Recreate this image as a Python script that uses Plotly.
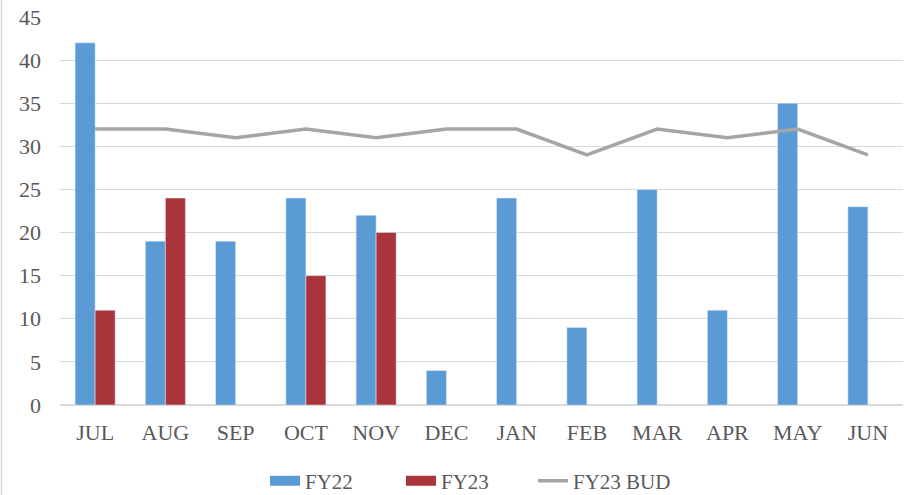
import plotly.graph_objects as go

months = ["JUL", "AUG", "SEP", "OCT", "NOV", "DEC", "JAN", "FEB", "MAR", "APR", "MAY", "JUN"]
fy22 = [42, 19, 19, 24, 22, 4, 24, 9, 25, 11, 35, 23]
fy23 = [11, 24, None, 15, 20, None, None, None, None, None, None, None]
fy23_bud = [32, 32, 31, 32, 31, 32, 32, 29, 32, 31, 32, 29]

font_family = "Liberation Serif, Times New Roman, serif"
text_color = "#595959"
grid_color = "#D9D9D9"
blue = "#5B9BD5"
red = "#A9343B"
gray = "#A5A5A5"

fig = go.Figure()
fig.add_trace(go.Bar(x=months, y=fy22, name="FY22", marker_color=blue, showlegend=False))
fig.add_trace(go.Bar(x=months, y=fy23, name="FY23", marker_color=red, showlegend=False))
fig.add_trace(go.Scatter(x=months, y=fy23_bud, name="FY23 BUD", mode="lines",
                         line=dict(color=gray, width=3.5), showlegend=False))
# legend entries (wide swatches like the reference), one legend each for exact spacing
fig.add_trace(go.Scatter(x=[None], y=[None], name="FY22", mode="lines",
                         line=dict(color=blue, width=12), legend="legend"))
fig.add_trace(go.Scatter(x=[None], y=[None], name="FY23", mode="lines",
                         line=dict(color=red, width=12), legend="legend2"))
fig.add_trace(go.Scatter(x=[None], y=[None], name="FY23 BUD", mode="lines",
                         line=dict(color=gray, width=3.5), legend="legend3"))

W, H = 912, 495
ml, mr, mt, mb = 60, 9, 17, 90
pw = W - ml - mr
ph = H - mt - mb


def legend_at(left_px):
    return dict(orientation="h", x=(left_px - ml) / pw, xanchor="left",
                yref="container", y=(H - 481) / H, yanchor="middle",
                font=dict(family=font_family, size=21, color=text_color),
                itemwidth=30, bgcolor="rgba(0,0,0,0)")


fig.update_layout(
    width=W, height=H,
    margin=dict(l=ml, r=mr, t=mt, b=mb, autoexpand=False),
    paper_bgcolor="white", plot_bgcolor="white",
    barmode="group", bargap=0.43, bargroupgap=0.0,
    font=dict(family=font_family, size=22, color=text_color),
    showlegend=True,
    legend=legend_at(265),
    legend2=legend_at(401),
    legend3=legend_at(533),
    xaxis=dict(showgrid=False, showline=False, zeroline=False, ticks="", automargin=False,
               tickfont=dict(family=font_family, size=22, color=text_color),
               ticklabelstandoff=12),
    yaxis=dict(range=[0, 45], dtick=5, showgrid=True, gridcolor=grid_color, gridwidth=1.3,
               zeroline=True, zerolinecolor=grid_color, zerolinewidth=2, showline=False, ticks="",
               automargin=False,
               tickfont=dict(family=font_family, size=22, color=text_color),
               ticklabelstandoff=18),
    shapes=[dict(type="line", xref="paper", yref="paper",
                 x0=(1.5 - ml) / pw, x1=(1.5 - ml) / pw, y0=-mb / ph, y1=1 + mt / ph,
                 line=dict(color=grid_color, width=1.5))],
)

fig.write_html("out.html", config={"displayModeBar": False},
               post_script="document.body.style.margin='0';")
